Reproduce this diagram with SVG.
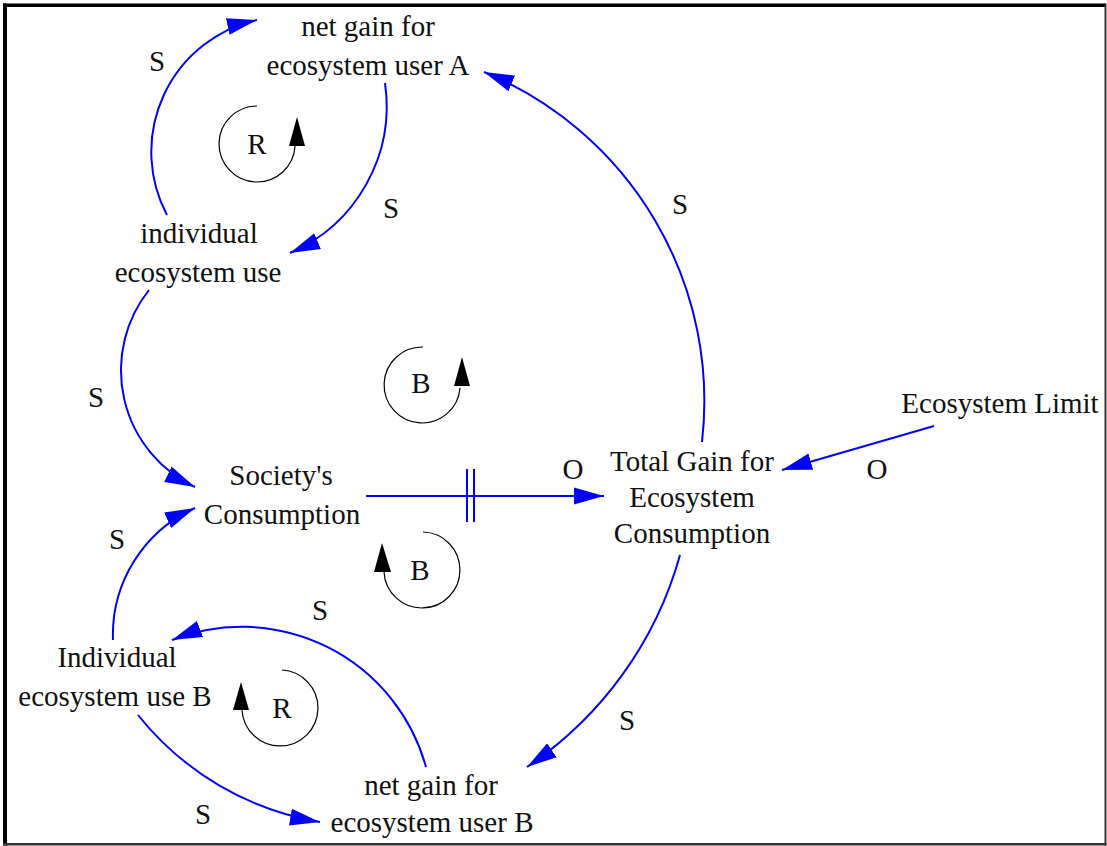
<svg xmlns="http://www.w3.org/2000/svg" width="1107" height="846" viewBox="0 0 1107 846">
<style>
.t{font-family:"Liberation Serif","Times New Roman",serif;font-size:29px;fill:#111;text-anchor:middle}
.lbl{font-family:"Liberation Serif","Times New Roman",serif;font-size:29px;fill:#111;text-anchor:middle}
.lk{fill:none;stroke:#0000ff;stroke-width:2}
.lp{fill:none;stroke:#000;stroke-width:1.2}
.lh{fill:#000}
</style>
<defs>
<marker id="ah" markerUnits="userSpaceOnUse" markerWidth="32" markerHeight="18" viewBox="0 0 32 18" refX="30" refY="9" orient="auto">
<path d="M0,0.5 L30,9 L0,17.5 Z" fill="#0000ff"/>
</marker>
</defs>
<rect x="0" y="0" width="1107" height="846" fill="#fff"/>
<g id="frame">
<rect x="3" y="3.5" width="1103" height="3.5" fill="#000"/>
<rect x="3" y="3.5" width="4" height="842" fill="#000"/>
<rect x="1104.5" y="3.5" width="2" height="842" fill="#333"/>
<rect x="3" y="843" width="1103.5" height="2.5" fill="#333"/>
</g>
<g id="connectors">
<path class="lk" marker-end="url(#ah)" d="M167,215 A135,135 0 0,1 257,20"/>
<path class="lk" marker-end="url(#ah)" d="M385,83 A160,160 0 0,1 290,253"/>
<path class="lk" marker-end="url(#ah)" d="M149,290 A129,129 0 0,0 195,487"/>
<path class="lk" marker-end="url(#ah)" d="M113,640 A139,139 0 0,1 195,508"/>
<path class="lk" marker-end="url(#ah)" d="M426,767 A191,191 0 0,0 172,640"/>
<path class="lk" marker-end="url(#ah)" d="M138,715 A295,295 0 0,0 320,822"/>
<path class="lk" marker-end="url(#ah)" d="M702,442 A356,356 0 0,0 484,72"/>
<path class="lk" marker-end="url(#ah)" d="M680,555 A377,377 0 0,1 527,767"/>
<path class="lk" marker-end="url(#ah)" d="M934,426 L782,470"/>
<path class="lk" marker-end="url(#ah)" d="M366,496 L604,496"/>
<path class="lk" d="M467,469 L467,522 M474,469 L474,522"/>
<text class="lbl" x="157" y="71">S</text>
<text class="lbl" x="391" y="218">S</text>
<text class="lbl" x="96" y="407">S</text>
<text class="lbl" x="117" y="549">S</text>
<text class="lbl" x="320" y="620">S</text>
<text class="lbl" x="203" y="824">S</text>
<text class="lbl" x="627" y="730">S</text>
<text class="lbl" x="680" y="214">S</text>
<text class="lbl" x="573" y="479">O</text>
<text class="lbl" x="877" y="479">O</text>
</g>
<g id="loop-R1">
<path class="lp" d="M257,106 A38,38 0 1,0 295,146"/>
<polygon class="lh" points="297,117 289,146 305,146"/>
<text class="lbl" x="257" y="154">R</text>
</g>
<g id="loop-B1">
<path class="lp" d="M423,347 A38,38 0 1,0 460,388"/>
<polygon class="lh" points="462,357 454,386 470,386"/>
<text class="lbl" x="421" y="393">B</text>
</g>
<g id="loop-B2">
<path class="lp" d="M423,532 A38,38 0 1,1 384,572"/>
<polygon class="lh" points="382,543 374,572 391,572"/>
<text class="lbl" x="420" y="580">B</text>
</g>
<g id="loop-R2">
<path class="lp" d="M282,670 A38,38 0 1,1 242,710"/>
<polygon class="lh" points="241,682 233,710 249,710"/>
<text class="lbl" x="282" y="718">R</text>
</g>
<g id="net-gain-A">
<text class="t" x="368" y="36">net gain for</text>
<text class="t" x="368" y="75">ecosystem user A</text>
</g>
<g id="individual-use">
<text class="t" x="199" y="243">individual</text>
<text class="t" x="198" y="282">ecosystem use</text>
</g>
<g id="societys-consumption">
<text class="t" x="281" y="485">Society's</text>
<text class="t" x="282" y="524">Consumption</text>
</g>
<g id="total-gain">
<text class="t" x="692" y="471">Total Gain for</text>
<text class="t" x="692" y="507">Ecosystem</text>
<text class="t" x="692" y="543">Consumption</text>
</g>
<g id="ecosystem-limit">
<text class="t" x="1000" y="413">Ecosystem Limit</text>
</g>
<g id="individual-use-B">
<text class="t" x="117" y="667">Individual</text>
<text class="t" x="115" y="706">ecosystem use B</text>
</g>
<g id="net-gain-B">
<text class="t" x="431" y="795">net gain for</text>
<text class="t" x="432" y="832">ecosystem user B</text>
</g>
</svg>
